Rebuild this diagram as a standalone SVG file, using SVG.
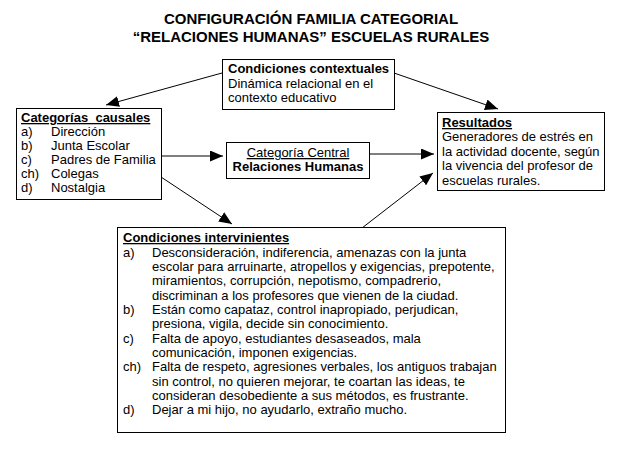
<svg xmlns="http://www.w3.org/2000/svg" width="621" height="451" viewBox="0 0 621 451">
<style>
text{font-family:"Liberation Sans",Arial,sans-serif;font-size:13px;fill:#000}
.t{font-size:15px;font-weight:bold;text-anchor:middle}
.b{font-weight:bold}
.u{text-decoration:underline}
.box{fill:#fff;stroke:#000;stroke-width:1}
.c{stroke:#000;stroke-width:1;fill:none;marker-end:url(#ah)}
</style>
<defs>
<marker id="ah" markerUnits="userSpaceOnUse" markerWidth="13" markerHeight="11" refX="13" refY="5.5" orient="auto">
<path d="M0,0 L13,5.5 L0,11 z" fill="#000"/>
</marker>
</defs>
<rect width="621" height="451" fill="#fff"/>
<g id="title">
<text class="t" x="311" y="24">CONFIGURACIÓN FAMILIA CATEGORIAL</text>
<text class="t" x="311" y="42">“RELACIONES HUMANAS” ESCUELAS RURALES</text>
</g>
<g id="connectors">
<line class="c" x1="222" y1="73" x2="106" y2="105"/>
<line class="c" x1="394" y1="73" x2="498" y2="109"/>
<line class="c" x1="161" y1="156" x2="223" y2="156"/>
<line class="c" x1="369" y1="154" x2="434" y2="154"/>
<line class="c" x1="362" y1="228" x2="433" y2="173"/>
<line class="c" x1="161" y1="177" x2="232" y2="224"/>
</g>
<g id="contextuales">
<rect class="box" x="222.5" y="59.5" width="172" height="50"/>
<text class="b" x="228" y="73">Condiciones contextuales</text>
<text x="228" y="88">Dinámica relacional en el</text>
<text x="228" y="102">contexto educativo</text>
</g>
<g id="causales">
<rect class="box" x="16.5" y="108.5" width="145" height="91"/>
<text class="b u" x="21" y="122" style="white-space:pre">Categorías  causales</text>
<text x="21" y="136">a)</text><text x="51" y="136">Dirección</text>
<text x="21" y="150">b)</text><text x="51" y="150">Junta Escolar</text>
<text x="21" y="164">c)</text><text x="51" y="164">Padres de Familia</text>
<text x="21" y="178">ch)</text><text x="51" y="178">Colegas</text>
<text x="21" y="192">d)</text><text x="51" y="192">Nostalgia</text>
</g>
<g id="central">
<rect class="box" x="226.5" y="142.5" width="143" height="36"/>
<text class="u" x="298" y="157" text-anchor="middle">Categoría Central</text>
<text class="b" x="298" y="171" text-anchor="middle">Relaciones Humanas</text>
</g>
<g id="resultados">
<rect class="box" x="437.5" y="112.5" width="167" height="78"/>
<text class="b u" x="442" y="127">Resultados</text>
<text x="442" y="141">Generadores de estrés en</text>
<text x="442" y="156">la actividad docente, según</text>
<text x="442" y="170">la vivencia del profesor de</text>
<text x="442" y="185">escuelas rurales.</text>
</g>
<g id="intervinientes">
<rect class="box" x="117.5" y="227.5" width="388" height="205"/>
<text class="b u" x="123" y="242">Condiciones intervinientes</text>
<text x="123" y="256.5">a)</text>
<text x="152" y="256.5">Desconsideración, indiferencia, amenazas con la junta</text>
<text x="152" y="271">escolar para arruinarte, atropellos y exigencias, prepotente,</text>
<text x="152" y="285">miramientos, corrupción, nepotismo, compadrerio,</text>
<text x="152" y="299.5">discriminan a los profesores que vienen de la ciudad.</text>
<text x="123" y="314">b)</text>
<text x="152" y="314">Están como capataz, control inapropiado, perjudican,</text>
<text x="152" y="328">presiona, vigila, decide sin conocimiento.</text>
<text x="123" y="342.5">c)</text>
<text x="152" y="342.5">Falta de apoyo, estudiantes desaseados, mala</text>
<text x="152" y="357">comunicación, imponen exigencias.</text>
<text x="123" y="371">ch)</text>
<text x="152" y="371">Falta de respeto, agresiones verbales, los antiguos trabajan</text>
<text x="152" y="385.5">sin control, no quieren mejorar, te coartan las ideas, te</text>
<text x="152" y="400">consideran desobediente a sus métodos, es frustrante.</text>
<text x="123" y="414">d)</text>
<text x="152" y="414">Dejar a mi hijo, no ayudarlo, extraño mucho.</text>
</g>
</svg>
